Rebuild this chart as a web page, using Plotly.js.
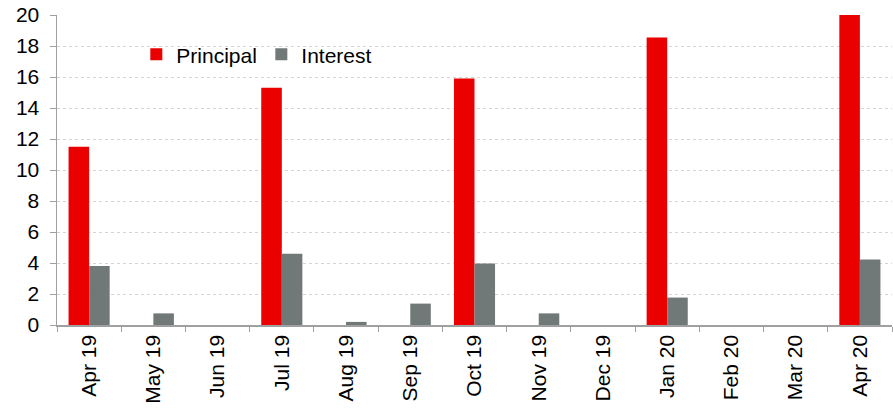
<!DOCTYPE html>
<html>
<head>
<meta charset="utf-8">
<script src="https://cdn.plot.ly/plotly-3.0.1.min.js"></script>
<style>
  html, body { margin: 0; padding: 0; background: #fff; }
  #chart { width: 893px; height: 408px; }
</style>
</head>
<body>
<div id="chart"></div>
<script>
// Monthly repayment schedule (bn)
const months = ["Apr 19", "May 19", "Jun 19", "Jul 19", "Aug 19", "Sep 19",
                "Oct 19", "Nov 19", "Dec 19", "Jan 20", "Feb 20", "Mar 20", "Apr 20"];
const principal = [11.5, 0, 0, 15.3, 0, 0, 15.9, 0, 0, 18.55, 0, 0, 20.0];
const interest  = [3.8, 0.75, 0, 4.6, 0.2, 1.38, 3.96, 0.75, 0, 1.77, 0, 0, 4.22];
const yTicks = [0, 2, 4, 6, 8, 10, 12, 14, 16, 18, 20];

const font = { family: "Arial, 'Liberation Sans', sans-serif", size: 21, color: "#000" };

const traces = [
  { type: "bar", name: "Principal", x: months, y: principal,
    marker: { color: "#EB0000", line: { width: 0 } } },
  { type: "bar", name: "Interest", x: months, y: interest,
    marker: { color: "#717878", line: { width: 0 } } }
];

const layout = {
  width: 893, height: 408,
  margin: { l: 57, r: 1, t: 15, b: 83 },
  paper_bgcolor: "#fff", plot_bgcolor: "#fff",
  font: font,
  barmode: "group",
  bargap: 0.36, bargroupgap: 0,
  showlegend: true,
  legend: {
    orientation: "h", x: 0.095, xanchor: "left", y: 0.872, yanchor: "middle",
    font: font, bgcolor: "rgba(0,0,0,0)", entrywidth: 80, entrywidthmode: "pixels",
    itemwidth: 30
  },
  xaxis: {
    type: "category", tickangle: -90, tickson: "boundaries",
    ticks: "outside", ticklen: 5, tickcolor: "#a0a0a0", tickwidth: 1,
    showline: true, linecolor: "#a0a0a0", linewidth: 1.5,
    showgrid: false, tickfont: font, automargin: false
  },
  yaxis: {
    range: [0, 20], tickvals: yTicks, ticktext: yTicks.map(String),
    ticks: "outside", ticklen: 6, tickcolor: "#a0a0a0", tickwidth: 1,
    ticklabelstandoff: 6,
    showline: true, linecolor: "#a0a0a0", linewidth: 1.5,
    showgrid: true, gridcolor: "#d4d4d4", griddash: "dot", gridwidth: 1,
    zeroline: false, tickfont: font, automargin: false
  }
};

Plotly.newPlot("chart", traces, layout, { staticPlot: true, displayModeBar: false });
</script>
</body>
</html>
